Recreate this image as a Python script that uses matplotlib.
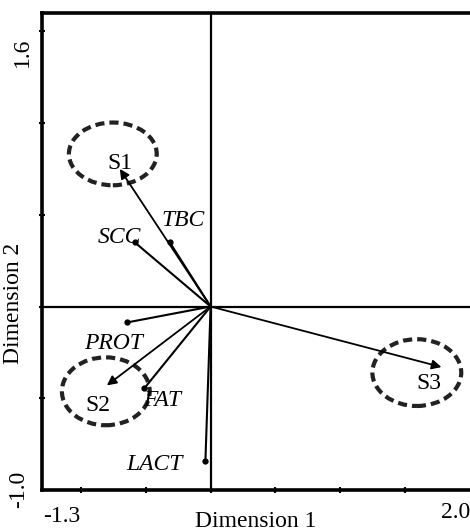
import matplotlib
matplotlib.use("Agg")
import matplotlib.pyplot as plt
from matplotlib.patches import Ellipse

# sample scores (arrows)
samples = ["S1", "S2", "S3"]
sample_x = [-0.70, -0.80, 1.78]
sample_y = [0.75, -0.43, -0.33]

# variable loadings (lines with dot)
variables = ["TBC", "SCC", "PROT", "FAT", "LACT"]
var_x = [-0.315, -0.585, -0.646, -0.51, -0.04]
var_y = [0.35, 0.35, -0.087, -0.445, -0.84]

# dashed circles round the samples: centre x, centre y, width, height
circ_x = [-0.754, -0.808, 1.59]
circ_y = [0.832, -0.462, -0.36]
circ_w = [0.677, 0.677, 0.685]
circ_h = [0.342, 0.37, 0.364]

serif = "Liberation Serif"

fig = plt.figure(figsize=(4.70, 5.32), dpi=100)
ax = fig.add_axes([42 / 470, 42 / 532, 428 / 470, 477 / 532])
ax.set_xlim(-1.3, 2.0)
ax.set_ylim(-1.0, 1.6)

for s in ax.spines.values():
    s.set_linewidth(2.6)
ax.spines["right"].set_visible(False)

# reference lines through the origin
ax.axhline(0, color="black", lw=1.6, zorder=1)
ax.axvline(0, color="black", lw=1.6, zorder=1)

ax.set_xticks([-1.0, -0.5, 0, 0.5, 1.0, 1.5])
ax.set_yticks([-0.5, 0, 0.5, 1.0, 1.5])
ax.set_xticklabels([])
ax.set_yticklabels([])
ax.tick_params(direction="inout", length=5, width=1.5)

# end labels only, placed in figure pixels
W, H = 470, 532
fig.text(43 / W, 1 - 516 / H, "-1.3", fontsize=17, family=serif, ha="left", va="center")
fig.text(470 / W, 1 - 512 / H, "2.0", fontsize=17, family=serif, ha="right", va="center")
fig.text(22 / W, 1 - 52 / H, "1.6", fontsize=17, family=serif, ha="center", va="center",
         rotation=90)
fig.text(19 / W, 1 - 489 / H, "-1.0", fontsize=17, family=serif, ha="center", va="center",
         rotation=90)

ax.set_xlabel("Dimension 1", fontsize=17, family=serif, labelpad=9)
fig.text(14 / W, 1 - 303 / H, "Dimension 2", fontsize=17, family=serif,
         ha="center", va="center", rotation=90)

# sample arrows
for i in range(len(samples)):
    ax.annotate("", xy=(sample_x[i], sample_y[i]), xytext=(0, 0),
                arrowprops=dict(arrowstyle="-|>", color="black", lw=1.3,
                                mutation_scale=14, shrinkA=0, shrinkB=0))

# variable vectors
for i in range(len(variables)):
    ax.plot([0, var_x[i]], [0, var_y[i]], color="black", lw=1.5)
    ax.plot(var_x[i], var_y[i], "o", color="black", ms=3.5)

# circles
for i in range(len(samples)):
    e = Ellipse((circ_x[i], circ_y[i]), circ_w[i], circ_h[i], fill=False,
                ls=(0, (2.2, 1.2)), lw=3, color="#222222")
    ax.add_patch(e)

# labels
s_lab = {"S1": (-0.70, 0.78), "S2": (-0.87, -0.54), "S3": (1.68, -0.42)}
for k in samples:
    ax.text(s_lab[k][0], s_lab[k][1], k, fontsize=17, family=serif,
            ha="center", va="center")

v_lab = {"TBC": (-0.21, 0.47), "SCC": (-0.70, 0.375), "PROT": (-0.75, -0.20),
         "FAT": (-0.37, -0.51), "LACT": (-0.43, -0.86)}
for k in variables:
    ax.text(v_lab[k][0], v_lab[k][1], k, fontsize=17, family=serif,
            style="italic", ha="center", va="center")

fig.savefig("out.png", dpi=100)
